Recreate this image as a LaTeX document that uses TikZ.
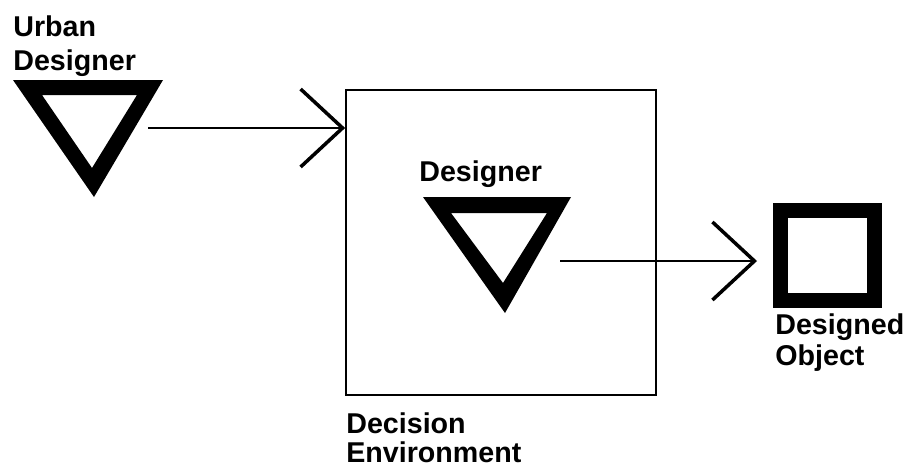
\documentclass[tikz,border=0pt]{standalone}
\usepackage{fontspec}
\setmainfont{Liberation Sans}
\usetikzlibrary{arrows.meta}

\tikzset{
  lbl/.style={anchor=north west, inner sep=0pt, align=left, font=\bfseries\fontsize{16.3}{17.6}\selectfont},
  flow/.style={line width=1.1pt, -{Straight Barb[length=0.84cm, width=1.56cm, line width=2pt]}},
  agent/.style={fill=black, even odd rule},
}

\begin{document}
\begin{tikzpicture}[x=0.02cm, y=-0.02cm]
\useasboundingbox (0,0) rectangle (910,470);

% urban designer
\node[lbl] (urban) at (13,15) {Urban\\[1.7pt]Designer};
\fill[agent] (13,80) -- (163,80) -- (94,197) -- cycle (42,95) -- (137,95) -- (92,168) -- cycle;
\coordinate (urbanout) at (148,128);

% decision environment
\node[draw, line width=1pt, minimum width=6.2cm, minimum height=6.1cm, inner sep=0pt] (env) at (501,242.5) {};
\node[lbl] (envlbl) at (346,412) {Decision\\[-1pt]Environment};

% designer
\node[lbl] (des) at (419,160) {Designer};
\fill[agent] (423,197) -- (571,197) -- (505,313) -- cycle (451,213) -- (547,213) -- (503,283) -- cycle;
\coordinate (desout) at (560,261);

% designed object
\node[draw, line width=0.3cm, minimum width=1.88cm, minimum height=1.8cm, inner sep=0pt] (obj) at (827.5,255.5) {};
\node[lbl] (objlbl) at (775,313) {Designed\\Object};

\draw[flow] (urbanout) -- (urbanout -| env.west);
\draw[flow, shorten >=0.32cm] (desout) -- (desout -| obj.west);
\end{tikzpicture}
\end{document}
